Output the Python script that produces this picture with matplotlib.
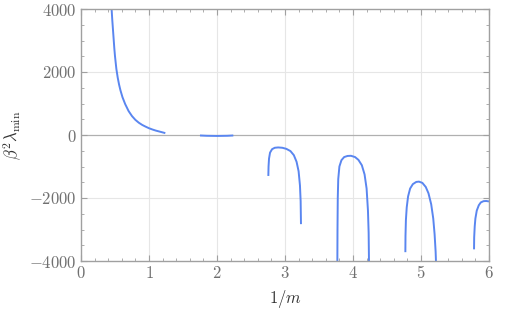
import matplotlib
matplotlib.use('Agg')
import matplotlib.pyplot as plt
from matplotlib.ticker import MultipleLocator, FuncFormatter

plt.rcParams['mathtext.fontset'] = 'cm'
plt.rcParams['font.family'] = 'serif'

# branches of beta^2 lambda_min vs 1/m
x1 = [0.45, 0.46, 0.47, 0.48, 0.49, 0.50, 0.52, 0.54, 0.56, 0.58, 0.61, 0.65,
      0.70, 0.75, 0.80, 0.85, 0.90, 0.95, 1.00, 1.05, 1.10, 1.17, 1.24]
y1 = [4000, 3650, 3350, 3050, 2750, 2500, 2100, 1820, 1600, 1420, 1200, 980,
      760, 600, 480, 390, 320, 265, 215, 175, 140, 100, 60]

x2 = [1.75, 1.85, 2.00, 2.15, 2.24]
y2 = [-15, -25, -30, -25, -15]

x3 = [2.755, 2.758, 2.765, 2.78, 2.81, 2.85, 2.90, 2.96, 3.02, 3.08, 3.13, 3.17, 3.20, 3.22, 3.23, 3.235]
y3 = [-1300, -1000, -750, -560, -450, -405, -395, -405, -440, -510, -640, -850, -1150, -1600, -2100, -2830]

x4 = [3.77, 3.772, 3.776, 3.783, 3.80, 3.83, 3.87, 3.92, 3.97, 4.03, 4.08, 4.13, 4.17, 4.20, 4.22, 4.23, 4.235]
y4 = [-4000, -3000, -2000, -1400, -1000, -800, -700, -665, -660, -700, -790, -960, -1250, -1700, -2400, -3100, -4000]

x5 = [4.77, 4.772, 4.778, 4.79, 4.81, 4.84, 4.88, 4.93, 4.97, 5.02, 5.07, 5.11, 5.15, 5.18, 5.20, 5.215, 5.22]
y5 = [-3720, -3200, -2700, -2300, -1950, -1700, -1560, -1490, -1480, -1520, -1650, -1850, -2200, -2650, -3150, -3700, -4000]

x6 = [5.78, 5.782, 5.79, 5.80, 5.82, 5.85, 5.88, 5.92, 5.96, 6.00]
y6 = [-3630, -3250, -2900, -2650, -2400, -2230, -2140, -2100, -2095, -2110]

branches = [(x1, y1), (x2, y2), (x3, y3), (x4, y4), (x5, y5), (x6, y6)]

fig = plt.figure(figsize=(5.08, 3.16), dpi=100)
ax = fig.add_axes([81 / 508, 1 - 261 / 316, 408 / 508, 252 / 316])

line_color = '#5a86f0'
frame_color = '#a0a0a0'
text_color = '#707070'

for xs, ys in branches:
    ax.plot(xs, ys, color=line_color, lw=1.4, solid_capstyle='butt')

ax.set_xlim(0, 6)
ax.set_ylim(-4000, 4000)

# gridlines (Mathematica style)
for gx in [1, 2, 3, 4, 5, 6]:
    ax.axvline(gx, color='#e6e6e6', lw=0.8, zorder=0)
for gy in [-2000, 2000]:
    ax.axhline(gy, color='#e6e6e6', lw=0.8, zorder=0)
ax.axhline(0, color='#b0b0b0', lw=0.9, zorder=0.5)

ax.xaxis.set_major_locator(MultipleLocator(1))
ax.xaxis.set_minor_locator(MultipleLocator(0.2))
ax.yaxis.set_major_locator(MultipleLocator(2000))
ax.yaxis.set_minor_locator(MultipleLocator(500))
ax.xaxis.set_major_formatter(FuncFormatter(lambda v, p: f'${v:.0f}$'))
ax.yaxis.set_major_formatter(FuncFormatter(lambda v, p: f'${v:.0f}$'))

ax.tick_params(which='both', direction='in', top=True, right=True,
               color=frame_color, labelcolor=text_color, labelsize=12)
ax.tick_params(which='major', length=4, width=0.8, pad=3)
ax.tick_params(which='minor', length=2.5, width=0.6)
ax.tick_params(axis='x', which='both', labeltop=False)
ax.tick_params(axis='y', which='both', labelright=False)

for s in ax.spines.values():
    s.set_color(frame_color)
    s.set_linewidth(1.0)

ax.set_xlabel(r'$1/m$', fontsize=12, color='#333333', labelpad=4)
ax.set_ylabel(r'$\beta^2\lambda_{\mathrm{min}}$', fontsize=12, color='#333333', labelpad=4)

fig.savefig('out.png', dpi=100)
